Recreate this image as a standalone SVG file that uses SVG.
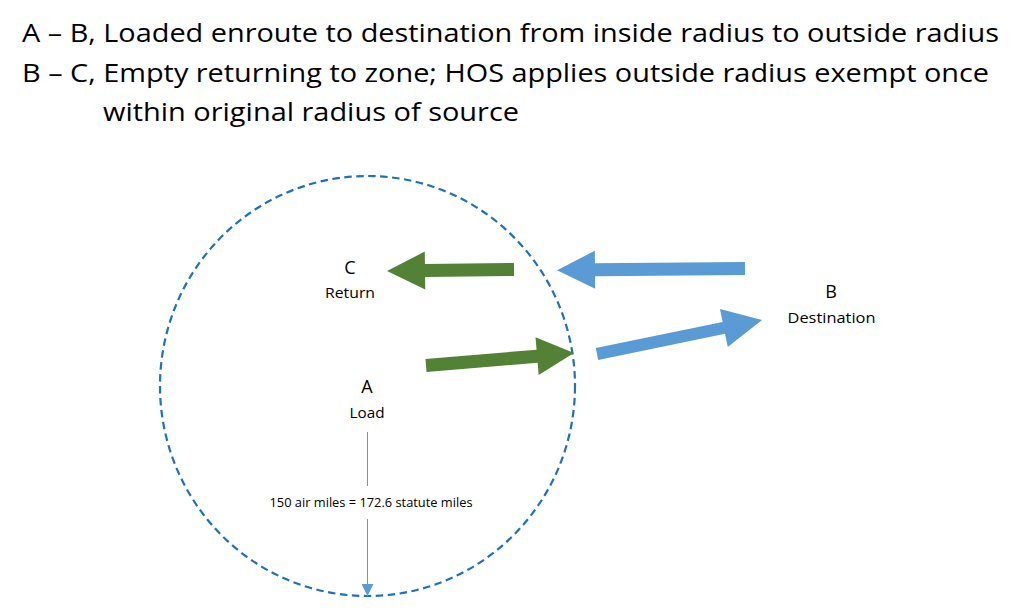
<svg xmlns="http://www.w3.org/2000/svg" width="1030" height="610" viewBox="0 0 1030 610">
<style>
.hdr{font-family:"Open Sans","Liberation Sans",Arial,sans-serif;font-size:25px;fill:#000}
.let{font-family:"Open Sans","Liberation Sans",Arial,sans-serif;font-size:18px;fill:#000;text-anchor:middle}
.sub{font-family:"Open Sans","Liberation Sans",Arial,sans-serif;font-size:14px;fill:#000;text-anchor:middle}
.green{fill:#538135}
.blue{fill:#5b9bd5}
</style>
<defs>
<marker id="tri" viewBox="0 0 12 12" refX="12" refY="6" markerWidth="12" markerHeight="12" markerUnits="userSpaceOnUse" orient="auto">
<path d="M0,0 L12,6 L0,12 Z" fill="#5b9bd5"/>
</marker>
</defs>
<rect width="1030" height="610" fill="#fff"/>
<g id="title">
<text class="hdr" x="22" y="42" textLength="977" lengthAdjust="spacingAndGlyphs">A – B, Loaded enroute to destination from inside radius to outside radius</text>
<text class="hdr" x="22" y="82" textLength="967" lengthAdjust="spacingAndGlyphs">B – C, Empty returning to zone; HOS applies outside radius exempt once</text>
<text class="hdr" x="103" y="121" textLength="416" lengthAdjust="spacingAndGlyphs">within original radius of source</text>
</g>
<g id="radius">
<ellipse cx="367.5" cy="386" rx="207.5" ry="210" fill="none" stroke="#1f70c1" stroke-width="2.2" stroke-dasharray="7.5,4.5"/>
</g>
<g id="nodeA">
<text class="let" x="367" y="393">A</text>
<text class="sub" x="367" y="418" textLength="35" lengthAdjust="spacingAndGlyphs">Load</text>
</g>
<g id="nodeB">
<text class="let" x="831" y="298">B</text>
<text class="sub" x="831.5" y="323" textLength="88" lengthAdjust="spacingAndGlyphs">Destination</text>
</g>
<g id="nodeC">
<text class="let" x="350" y="274">C</text>
<text class="sub" x="350" y="298" textLength="50" lengthAdjust="spacingAndGlyphs">Return</text>
</g>
<g id="connectors">
<polygon class="green" transform="translate(514,269.5) rotate(179.3)" points="0,-6.5 89,-6.5 89,-19 127,0 89,19 89,6.5 0,6.5"/>
<polygon class="blue" transform="translate(745,268.5) rotate(179.5)" points="0,-6.5 150,-6.5 150,-19 188,0 150,19 150,6.5 0,6.5"/>
<polygon class="green" transform="translate(426,365.5) rotate(-4.8)" points="0,-6.5 111.5,-6.5 111.5,-19 148.5,0 111.5,19 111.5,6.5 0,6.5"/>
<polygon class="blue" transform="translate(597,354) rotate(-11.6)" points="0,-6 129.5,-6 129.5,-19.4 168.5,0 129.5,19.4 129.5,6 0,6"/>
<line x1="367.5" y1="432" x2="367.5" y2="486" stroke="#5b9bd5" stroke-width="1"/>
<line x1="367.5" y1="519" x2="367.5" y2="596" stroke="#5b9bd5" stroke-width="1" marker-end="url(#tri)"/>
<text x="371" y="507" font-family="'Open Sans','Liberation Sans',Arial,sans-serif" font-size="12" text-anchor="middle" textLength="203" lengthAdjust="spacingAndGlyphs">150 air miles = 172.6 statute miles</text>
</g>
</svg>
